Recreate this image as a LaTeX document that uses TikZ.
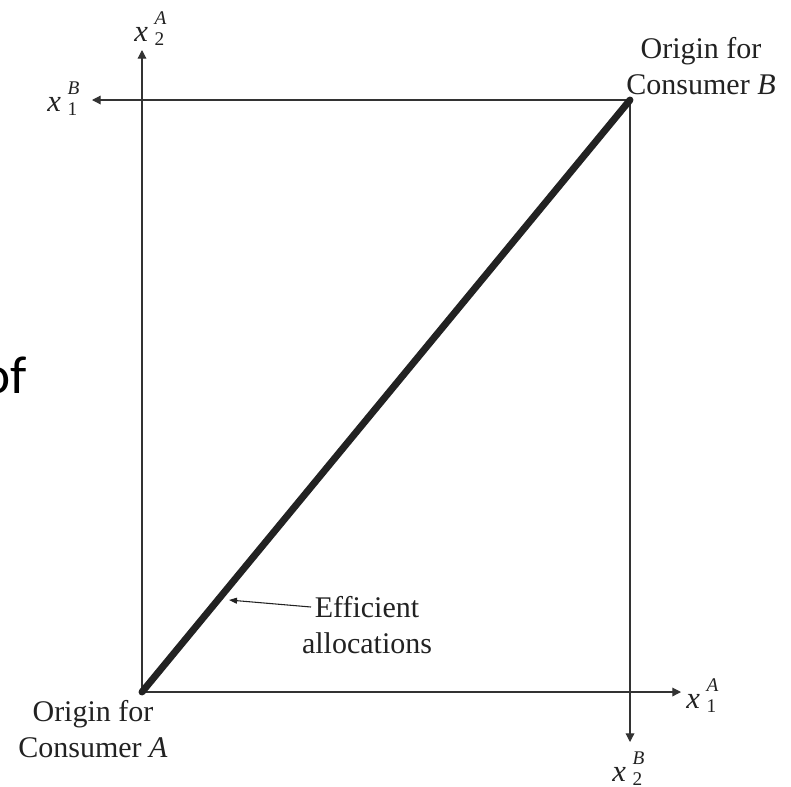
\documentclass[tikz,border=0pt]{standalone}
\usepackage{fontspec}
\setmainfont{Liberation Serif}
\newfontfamily\slidefont{Carlito}
\usetikzlibrary{arrows.meta}
\definecolor{ink}{HTML}{222222}
\definecolor{axisgray}{HTML}{333333}
\newcommand{\axlab}[2]{\textit{x}\kern5pt\rlap{\raisebox{12.5pt}{\fontsize{14.5}{14.5}\selectfont\textit{#2}}}\raisebox{-3pt}{\fontsize{14.5}{14.5}\selectfont #1}}
\begin{document}
\begin{tikzpicture}[x=0.75pt,y=-0.75pt,
  axisline/.style={draw=axisgray,line width=0.9pt,-{Triangle[length=6.5pt,width=6.5pt]}},
  contract/.style={draw=ink,line width=5.2pt,line cap=round},
  pointer/.style={draw=ink,line width=0.8pt,-{Triangle[length=6pt,width=4.5pt]}},
  lbl/.style={inner sep=0pt,text=ink,font=\fontsize{22.5}{27.5}\selectfont,align=center},
  axlbl/.style={inner sep=0pt,text=ink,font=\fontsize{23}{27}\selectfont,anchor=base west}]
\useasboundingbox[fill=white] (0,0) rectangle (791,786);
% key points
\coordinate (OA) at (142,692);
\coordinate (OB) at (630,100);
\coordinate (TA1) at (681,692);
\coordinate (TA2) at (142,50);
\coordinate (TB1) at (92,100);
\coordinate (TB2) at (630,742);
% axes of consumer A
\draw[axisline] (OA) -- (TA1);
\draw[axisline] (OA) -- (TA2);
% axes of consumer B
\draw[axisline] (OB) -- (TB1);
\draw[axisline] (OB) -- (TB2);
% contract curve
\draw[contract] (OA) -- (OB);
% axis labels
\node[axlbl] (lA2) at (134,41) {\axlab{2}{A}};
\node[axlbl] (lB1) at (47,111) {\axlab{1}{B}};
\node[axlbl] (lA1) at (686,708) {\axlab{1}{A}};
\node[axlbl] (lB2) at (612,781) {\axlab{2}{B}};
% origin labels
\node[lbl] (oriA) at (93,729) {Origin for\\Consumer \textit{A}};
\node[lbl] (oriB) at (701,66) {Origin for\\Consumer \textit{B}};
% efficient allocations
\node[lbl] (eff) at (367,625) {Efficient\\allocations};
\coordinate (effstart) at (311,607);
\coordinate (efftip) at (229,600);
\draw[pointer] (effstart) -- (efftip);
% slide fragment
\node[inner sep=0pt,anchor=base east,font=\slidefont\fontsize{40}{48}\selectfont,text=black] (frag) at (27,393) {of};
\end{tikzpicture}
\end{document}
